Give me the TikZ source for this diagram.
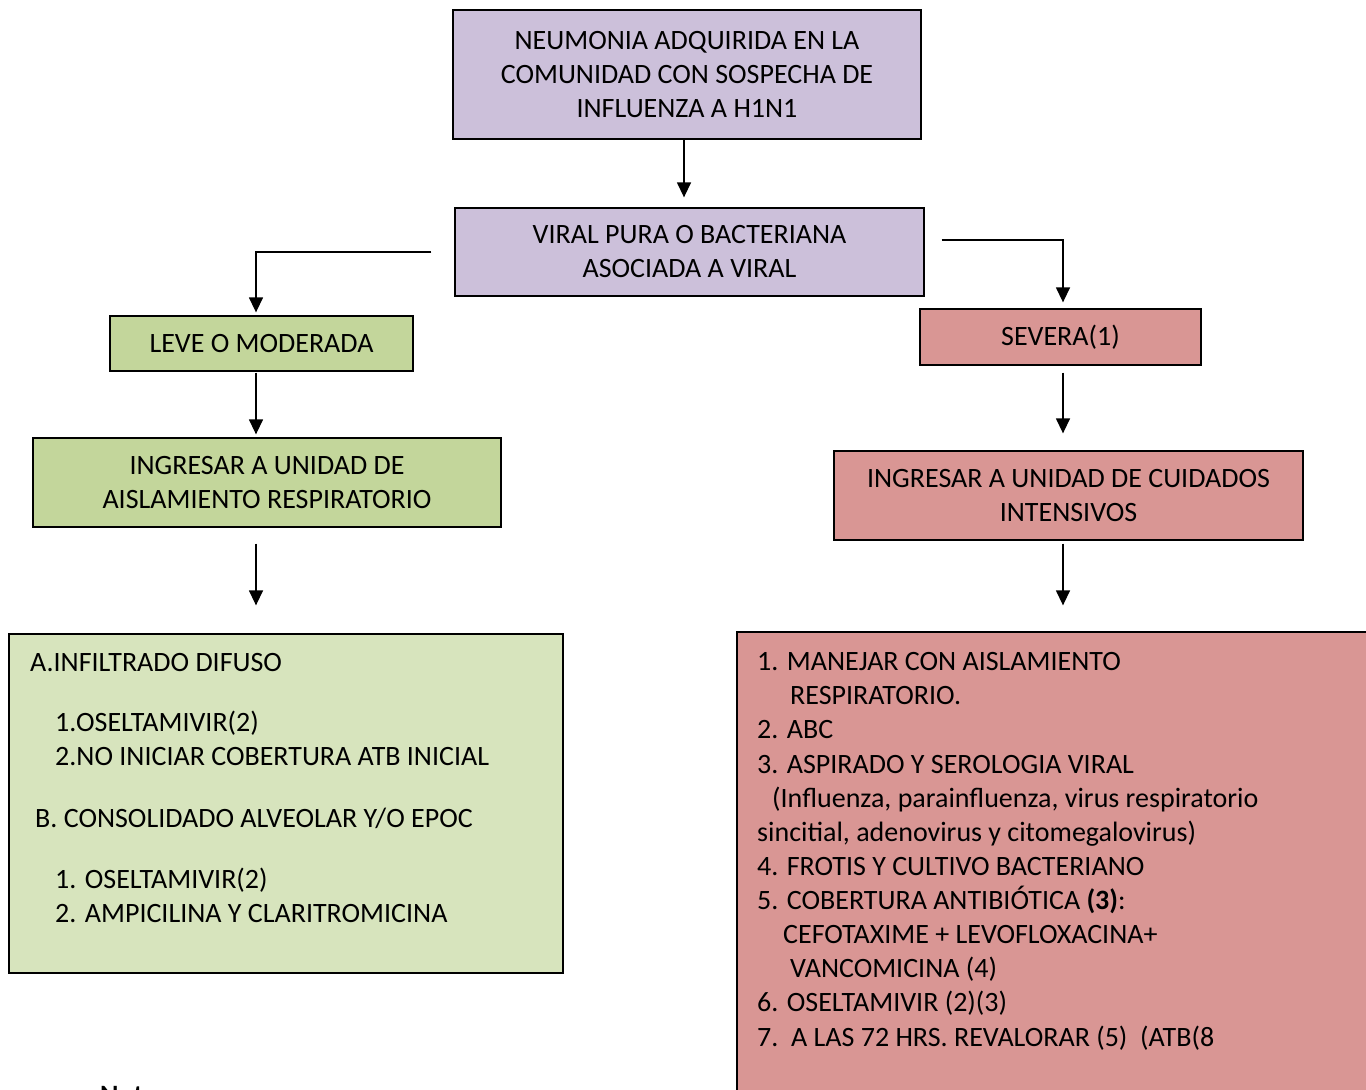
\documentclass[tikz,border=0pt]{standalone}
\usepackage{fontspec}
\setmainfont{Carlito}
\usetikzlibrary{arrows.meta}
\definecolor{lav}{HTML}{CCC0DA}
\definecolor{grn}{HTML}{C3D69B}
\definecolor{lgrn}{HTML}{D7E4BD}
\definecolor{pnk}{HTML}{D99694}
\begin{document}
\begin{tikzpicture}[x=1pt,y=-1pt,
  every node/.style={font=\fontsize{28}{34}\selectfont, inner sep=0pt},
  box/.style={draw=black, line width=1.3pt, align=center},
  txt/.style={anchor=base west},
  arr/.style={line width=1.4pt, -{Triangle[length=15pt,width=14pt]}}]
\useasboundingbox (0,0) rectangle (1366,1090);
\clip (0,0) rectangle (1366,1090);
% boxes
\node[box, fill=lav, minimum width=468pt, minimum height=129pt] (top) at (687,74.5)
  {NEUMONIA ADQUIRIDA EN LA\\COMUNIDAD CON SOSPECHA DE\\INFLUENZA A H1N1};
\node[box, fill=lav, minimum width=469pt, minimum height=88pt] (box2) at (689.5,252)
  {VIRAL PURA O BACTERIANA\\ASOCIADA A VIRAL};
\node[box, fill=grn, minimum width=303pt, minimum height=55pt] (leve) at (261.5,343.5)
  {LEVE O MODERADA};
\node[box, fill=pnk, minimum width=281pt, minimum height=56pt] (sev) at (1060.5,337)
  {SEVERA(1)};
\node[box, fill=grn, minimum width=468pt, minimum height=89pt] (ingL) at (267,482.5)
  {INGRESAR A UNIDAD DE\\AISLAMIENTO RESPIRATORIO};
\node[box, fill=pnk, minimum width=469pt, minimum height=89pt] (ingR) at (1068.5,495.5)
  {INGRESAR A UNIDAD DE CUIDADOS\\INTENSIVOS};
\node[box, fill=lgrn, minimum width=554pt, minimum height=339pt] (boxL) at (286,803.5) {};
\node[box, fill=pnk, minimum width=643pt, minimum height=478pt] (boxR) at (1058.5,871) {};
% left box text
\node[txt] (l1) at (30,671) {A.INFILTRADO DIFUSO};
\node[txt] (l2) at (55,731) {1.OSELTAMIVIR(2)};
\node[txt] (l3) at (55,765) {2.NO INICIAR COBERTURA ATB INICIAL};
\node[txt] (l4) at (35,827) {B. CONSOLIDADO ALVEOLAR Y/O EPOC};
\node[txt] (l5) at (55,888) {1. OSELTAMIVIR(2)};
\node[txt] (l6) at (55,922) {2. AMPICILINA Y CLARITROMICINA};
% right box text
\node[txt] (r1) at (757,670) {1. MANEJAR CON AISLAMIENTO};
\node[txt] (r2) at (790,704) {RESPIRATORIO.};
\node[txt] (r3) at (757,738) {2. ABC};
\node[txt] (r4) at (757,773) {3. ASPIRADO Y SEROLOGIA VIRAL};
\node[txt] (r5) at (772,807) {(Influenza, parainfluenza, virus respiratorio};
\node[txt] (r6) at (757,841) {sincitial, adenovirus y citomegalovirus)};
\node[txt] (r7) at (757,875) {4. FROTIS Y CULTIVO BACTERIANO};
\node[txt] (r8) at (757,909) {5. COBERTURA ANTIBIÓTICA \textbf{(3)}:};
\node[txt] (r9) at (783,943) {CEFOTAXIME + LEVOFLOXACINA+};
\node[txt] (r10) at (790,977) {VANCOMICINA (4)};
\node[txt] (r11) at (757,1011) {6. OSELTAMIVIR (2)(3)};
\node[txt] (r12) at (757,1046) {7.\ \ A LAS 72 HRS. REVALORAR (5)\ \ (ATB(8};
% note
\node[txt, font=\fontsize{28}{34}\selectfont\bfseries] (nota) at (100,1104) {Nota};
% connectors
\coordinate (cM) at (684,0);
\coordinate (cL) at (256,0);
\coordinate (cR) at (1063,0);
\draw[arr, shorten >=10pt] (top.south -| cM) -- (box2.north -| cM);
\draw[arr, shorten <=23pt, shorten >=3pt] (box2.west) -| (leve.north -| cL);
\draw[arr, shorten <=17pt, shorten >=6pt] ([yshift=12pt]box2.east) -| (sev.north -| cR);
\draw[arr, shorten <=1pt, shorten >=3pt] (leve.south -| cL) -- (ingL.north -| cL);
\draw[arr, shorten <=7pt, shorten >=17pt] (sev.south -| cR) -- (ingR.north -| cR);
\draw[arr, shorten <=16pt, shorten >=28pt] (ingL.south -| cL) -- (boxL.north -| cL);
\draw[arr, shorten <=3pt, shorten >=26pt] (ingR.south -| cR) -- (boxR.north -| cR);
\end{tikzpicture}
\end{document}
